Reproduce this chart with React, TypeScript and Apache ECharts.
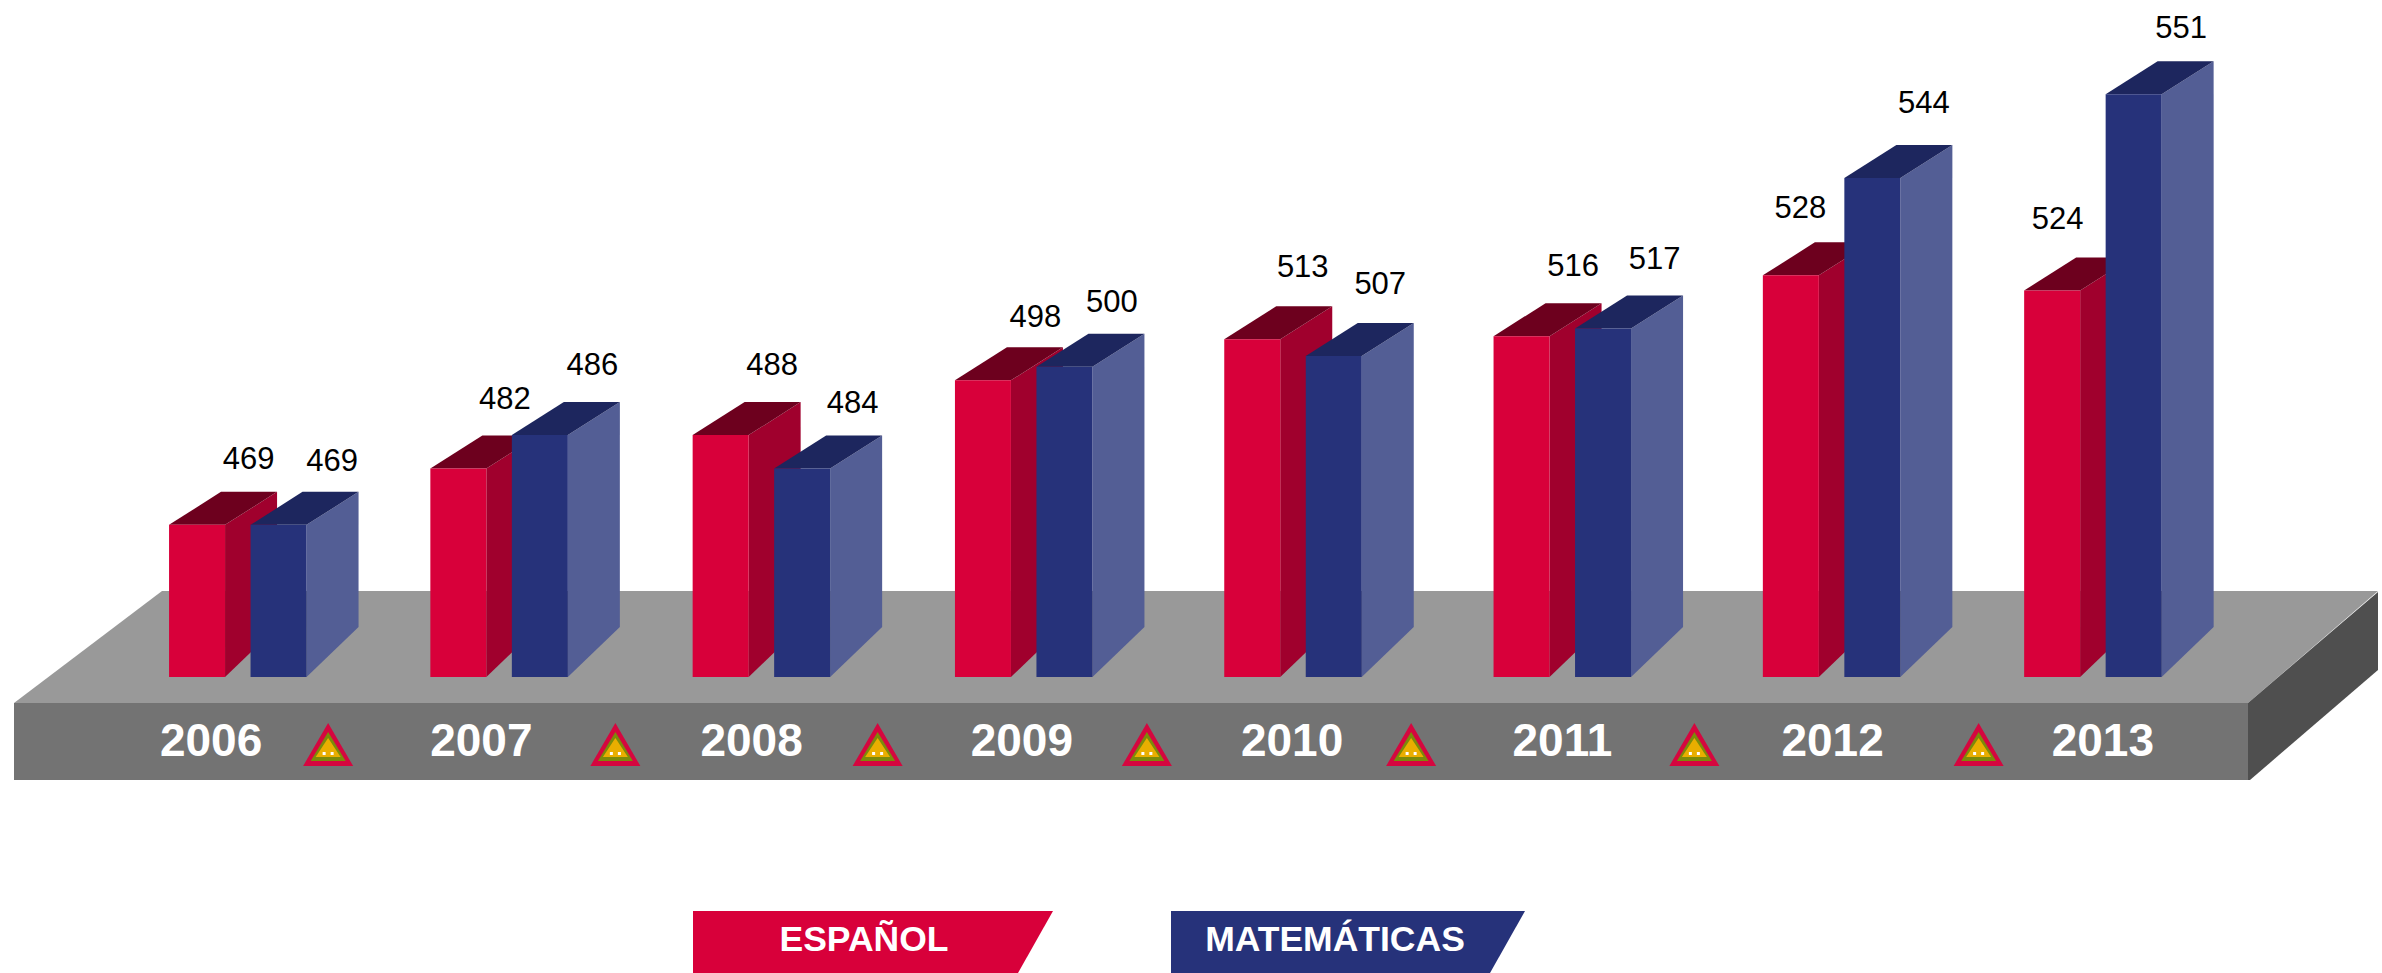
import React, { useEffect, useRef } from "react";
import * as echarts from "echarts";

const years = ["2006", "2007", "2008", "2009", "2010", "2011", "2012", "2013"];
const seriesNames = ["ESPAÑOL", "MATEMÁTICAS"];
// Score printed over each bar
const espanolScores = [469, 482, 488, 498, 513, 516, 528, 524];
const matematicasScores = [469, 486, 484, 500, 507, 517, 544, 551];
// The reference is not to scale: drawn height of each bar
const espanolHeights = [100, 137, 159, 195, 222, 224, 264, 254];
const matematicasHeights = [100, 159, 137, 204, 211, 229, 328, 383];
const triangleSlots = [0, 1, 2, 3, 4, 5, 6];

const FONT = '"Liberation Sans", Arial, sans-serif';
const BAR_W = 56;
const DEPTH_X = 52;
const TOP_DY = 33;
const BASE_DY = 50;
const GROUP_NUDGE = [2, -2, -5, -8, -4, 0, 4, 0];
const TRIANGLE_DX = [117, 134, 126, 125, 119, 132, 146];

const LABEL_NUDGE = [
  [[0, 4], [-5, 0], [0, -1], [1, 6], [-1, -3], [0, -1], [-42, 2], [-46, -2]],
  [[2, 6], [1, -1], [-1, 4], [-4, 5], [-5, -2], [0, 0], [0, -5], [-4, 3]],
];

const bar3D = (colors: string[], offset: number, seriesIdx: number) => (params: any, api: any) => {
  const i = api.value(0);
  const h = api.value(1);
  const score = api.value(2);
  const [cx, yTop] = api.coord([i, h]);
  const [, yBase] = api.coord([i, 0]);
  const l = cx + GROUP_NUDGE[i] + offset;
  const r = l + BAR_W;
  const nudge = LABEL_NUDGE[seriesIdx][i];
  return {
    type: "group",
    children: [
      {
        type: "polygon",
        shape: { points: [[r, yTop], [r + DEPTH_X, yTop - TOP_DY], [r + DEPTH_X, yBase - BASE_DY], [r, yBase]] },
        style: { fill: colors[1] },
      },
      {
        type: "polygon",
        shape: { points: [[l, yTop], [l + DEPTH_X, yTop - TOP_DY], [r + DEPTH_X, yTop - TOP_DY], [r, yTop]] },
        style: { fill: colors[2] },
      },
      { type: "rect", shape: { x: l, y: yTop, width: BAR_W, height: yBase - yTop }, style: { fill: colors[0] } },
      {
        type: "text",
        style: {
          text: String(score),
          x: l + 79.5 + nudge[0],
          y: yTop - TOP_DY - 37 + nudge[1],
          fill: "#000000",
          font: `31px ${FONT}`,
          align: "center",
          verticalAlign: "middle",
        },
      },
    ],
  };
};

const triangle = (params: any, api: any) => {
  const i = api.value(0);
  const c = api.coord([i, 0])[0] + TRIANGLE_DX[i];
  const tri = (halfW: number, top: number, bottom: number, fill: string) => ({
    type: "polygon",
    shape: { points: [[c, top], [c + halfW, bottom], [c - halfW, bottom]] },
    style: { fill },
  });
  return {
    type: "group",
    children: [
      tri(25, 723, 766, "#d5063f"),
      tri(17.5, 732, 761, "#7c8a0a"),
      tri(12.5, 738, 757, "#e9ae00"),
      { type: "rect", shape: { x: c - 5.5, y: 752, width: 3, height: 3 }, style: { fill: "#ffffff" } },
      { type: "rect", shape: { x: c + 2.5, y: 752, width: 3, height: 3 }, style: { fill: "#ffffff" } },
    ],
  };
};

export default function App() {
  const ref = useRef<HTMLDivElement>(null);
  useEffect(() => {
    document.body.style.margin = "0";
    const chart = echarts.init(ref.current!, undefined, { renderer: "svg" });
    chart.setOption({
      animation: false,
      backgroundColor: "#ffffff",
      tooltip: { show: false },
      grid: [
        { left: 104.4, width: 2122.4, top: 0, height: 677 },
        { left: 76, width: 2162, top: 640, height: 72 },
      ],
      xAxis: [
        { type: "category", gridIndex: 0, data: years, show: false },
        {
          type: "category",
          gridIndex: 1,
          data: years,
          axisLine: { show: false },
          axisTick: { show: false },
          axisLabel: { color: "#ffffff", fontFamily: FONT, fontWeight: "bold", fontSize: 46, margin: 5 },
        },
      ],
      yAxis: [
        { type: "value", gridIndex: 0, min: 0, max: 445, show: false },
        { type: "value", gridIndex: 1, min: 0, max: 1, show: false },
      ],
      graphic: {
        elements: [
          { type: "polygon", z: 0, shape: { points: [[162, 591], [2378, 591], [2248, 703], [14, 703]] }, style: { fill: "#999999" } },
          { type: "rect", z: 0, shape: { x: 14, y: 703, width: 2234, height: 77 }, style: { fill: "#737373" } },
          { type: "polygon", z: 0, shape: { points: [[2248, 703], [2378, 592], [2378, 670], [2250, 780], [2248, 780]] }, style: { fill: "#4f4f4f" } },
          { type: "polygon", z: 0, shape: { points: [[693, 911], [1053, 911], [1018, 973], [693, 973]] }, style: { fill: "#d8003a" } },
          { type: "polygon", z: 0, shape: { points: [[1171, 911], [1525, 911], [1490, 973], [1171, 973]] }, style: { fill: "#26327a" } },
          { type: "text", z: 1, style: { text: seriesNames[0], x: 864, y: 939, fill: "#ffffff", font: `bold 35.5px ${FONT}`, align: "center", verticalAlign: "middle" } },
          { type: "text", z: 1, style: { text: seriesNames[1], x: 1335, y: 939, fill: "#ffffff", font: `bold 35.5px ${FONT}`, align: "center", verticalAlign: "middle" } },
        ],
      },
      series: [
        {
          type: "custom",
          name: seriesNames[0],
          xAxisIndex: 0,
          yAxisIndex: 0,
          silent: true,
          encode: { x: 0, y: 1 },
          renderItem: bar3D(["#d8003a", "#a0002d", "#6d001e"], -70, 0),
          data: espanolHeights.map((h, i) => [i, h, espanolScores[i]]),
        },
        {
          type: "custom",
          name: seriesNames[1],
          xAxisIndex: 0,
          yAxisIndex: 0,
          silent: true,
          encode: { x: 0, y: 1 },
          renderItem: bar3D(["#26327a", "#535e95", "#1d265e"], 11.5, 1),
          data: matematicasHeights.map((h, i) => [i, h, matematicasScores[i]]),
        },
        {
          type: "custom",
          name: "triangles",
          xAxisIndex: 1,
          yAxisIndex: 1,
          silent: true,
          encode: { x: 0, y: 1 },
          renderItem: triangle,
          data: triangleSlots.map((i) => [i, 0]),
        },
      ],
    });
    return () => chart.dispose();
  }, []);
  return <div ref={ref} style={{ width: 2382, height: 973 }} />;
}
